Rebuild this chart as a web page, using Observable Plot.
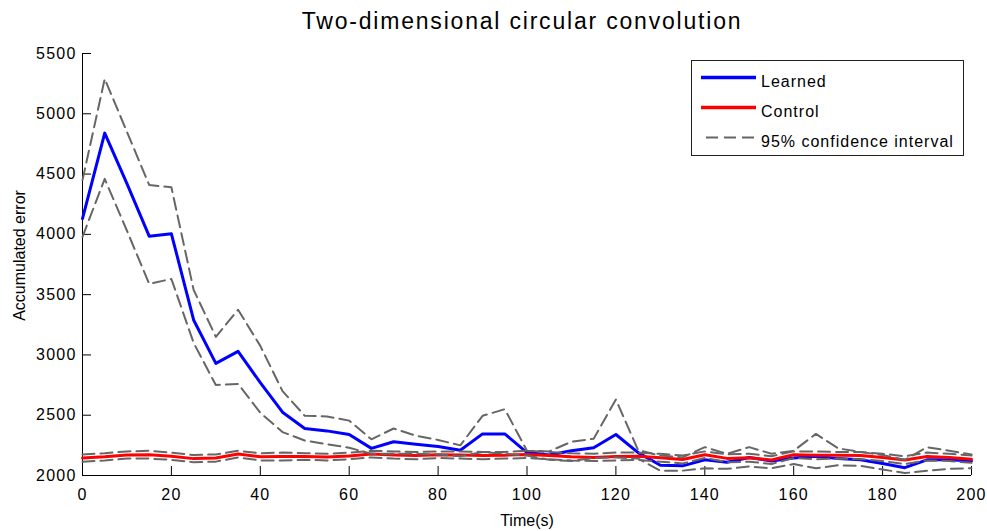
<!DOCTYPE html>
<html>
<head>
<meta charset="utf-8">
<script src="https://cdn.jsdelivr.net/npm/d3@7"></script>
<script src="https://cdn.jsdelivr.net/npm/@observablehq/plot@0.6"></script>
<style>
html, body { margin: 0; padding: 0; background: #fff; }
#wrap { position: relative; width: 987px; height: 531px; font-family: "Liberation Sans", Arial, sans-serif; }
#wrap > svg.plot { position: absolute; left: 0; top: 0; }
#title { position: absolute; top: 10px; left: 522px; transform: translateX(-50%); font-size: 23px; line-height: 23px; letter-spacing: 1.8px; white-space: nowrap; color: #000; }
</style>
</head>
<body>
<div id="wrap"><div id="title">Two-dimensional circular convolution</div></div>
<script>
// ---- data ----
const time = [0, 5, 10, 15, 20, 25, 30, 35, 40, 45, 50, 55, 60, 65, 70, 75, 80, 85, 90, 95, 100,
  105, 110, 115, 120, 125, 130, 135, 140, 145, 150, 155, 160, 165, 170, 175, 180, 185, 190, 195, 200];

const learned = [4130, 4840, 4420, 3985, 4005, 3290, 2930, 3030, 2770, 2525, 2390, 2370, 2340, 2225, 2280, 2260, 2240, 2210, 2345, 2345, 2190,
  2170, 2205, 2230, 2340, 2190, 2085, 2080, 2130, 2110, 2150, 2120, 2145, 2160, 2140, 2130, 2100, 2065, 2130, 2130, 2120];

const learnedUpper = [4450, 5290, 4850, 4410, 4390, 3540, 3150, 3375, 3075, 2700, 2495, 2490, 2455, 2300, 2390, 2330, 2295, 2250, 2495, 2550, 2205,
  2200, 2280, 2305, 2630, 2210, 2165, 2150, 2235, 2180, 2235, 2180, 2205, 2345, 2225, 2195, 2170, 2130, 2235, 2205, 2175];

const learnedLower = [3980, 4460, 4030, 3590, 3630, 3100, 2750, 2760, 2520, 2360, 2290, 2260, 2230, 2180, 2180, 2180, 2175, 2160, 2195, 2180, 2165,
  2130, 2120, 2145, 2150, 2140, 2040, 2040, 2060, 2055, 2075, 2060, 2095, 2060, 2085, 2080, 2050, 2020, 2040, 2055, 2060];

const control = [2145, 2155, 2170, 2172, 2160, 2140, 2145, 2178, 2155, 2158, 2158, 2153, 2162, 2178, 2170, 2165, 2172, 2170, 2165, 2168, 2175,
  2165, 2155, 2150, 2158, 2160, 2148, 2132, 2172, 2142, 2148, 2128, 2172, 2168, 2168, 2165, 2150, 2128, 2158, 2150, 2135];

const controlUpper = [2175, 2185, 2200, 2205, 2190, 2170, 2175, 2205, 2185, 2190, 2185, 2180, 2190, 2205, 2200, 2195, 2200, 2200, 2195, 2195, 2205,
  2195, 2185, 2180, 2190, 2190, 2180, 2165, 2200, 2175, 2180, 2160, 2200, 2200, 2195, 2195, 2180, 2160, 2190, 2180, 2165];

const controlLower = [2115, 2125, 2140, 2140, 2130, 2110, 2115, 2150, 2125, 2125, 2130, 2125, 2135, 2150, 2140, 2135, 2145, 2140, 2135, 2140, 2145,
  2135, 2125, 2120, 2125, 2130, 2115, 2100, 2145, 2110, 2115, 2095, 2145, 2135, 2140, 2135, 2120, 2095, 2125, 2120, 2105];

const xTicks = [0, 20, 40, 60, 80, 100, 120, 140, 160, 180, 200];
const yTicks = [2000, 2500, 3000, 3500, 4000, 4500, 5000, 5500];
const legendLabels = ["Learned", "Control", "95% confidence interval"];
const seriesColors = ["#0000ff", "#ff0000", "#666666"];

// ---- layout ----
const W = 987, H = 531, mL = 82, mR = 16, mT = 53, mB = 56;
const frameW = W - mL - mR, frameH = H - mT - mB;
const tickLen = 9;
const dash = "12,6";

const rows = time.map((t, i) => ({
  t, learned: learned[i], learnedUpper: learnedUpper[i], learnedLower: learnedLower[i],
  control: control[i], controlUpper: controlUpper[i], controlLower: controlLower[i]
}));

const chart = Plot.plot({
  width: W, height: H,
  marginLeft: mL, marginRight: mR, marginTop: mT, marginBottom: mB,
  style: { fontFamily: "'Liberation Sans', Arial, sans-serif", fontSize: "16px", color: "#000", background: "#fff" },
  x: { domain: [0, 200] },
  y: { domain: [2000, 5500] },
  marks: [
    Plot.axisX({ ticks: xTicks, tickSize: 0, tickPadding: 13, label: null, fontSize: 16, tickFormat: "d" }),
    Plot.axisY({ ticks: yTicks, tickSize: 0, tickPadding: 6, label: null, fontSize: 16, tickFormat: "d" }),
    Plot.tickX(xTicks, { x: d => d, insetTop: frameH - tickLen, stroke: "#000" }),
    Plot.tickY(yTicks, { y: d => d, insetRight: frameW - tickLen, stroke: "#000" }),
    Plot.ruleX([0], { stroke: "#000" }),
    Plot.ruleY([2000], { stroke: "#000" }),
    Plot.line(rows, { x: "t", y: "learned", stroke: seriesColors[0], strokeWidth: 3 }),
    Plot.line(rows, { x: "t", y: "control", stroke: seriesColors[1], strokeWidth: 3 }),
    Plot.line(rows, { x: "t", y: "learnedUpper", stroke: seriesColors[2], strokeWidth: 2, strokeDasharray: dash }),
    Plot.line(rows, { x: "t", y: "learnedLower", stroke: seriesColors[2], strokeWidth: 2, strokeDasharray: dash }),
    Plot.line(rows, { x: "t", y: "controlUpper", stroke: seriesColors[2], strokeWidth: 2, strokeDasharray: dash }),
    Plot.line(rows, { x: "t", y: "controlLower", stroke: seriesColors[2], strokeWidth: 2, strokeDasharray: dash }),
    Plot.text(["Time(s)"], { text: d => d, frameAnchor: "bottom", dy: 45, lineAnchor: "middle", textAnchor: "middle", fontSize: 16 }),
    Plot.text(["Accumulated error"], { text: d => d, frameAnchor: "left", dx: -63, dy: -9, rotate: -90, textAnchor: "middle", lineAnchor: "middle", fontSize: 16 })
  ]
});
chart.classList.add("plot");
const wrap = document.getElementById("wrap");
wrap.insertBefore(chart, wrap.firstChild);
d3.select(chart).selectAll('g[aria-label="x-axis tick label"] text, g[aria-label="y-axis tick label"] text')
  .style("letter-spacing", "1.2px");

// ---- legend ----
const lg = d3.select(wrap).append("svg")
  .attr("width", 275).attr("height", 98)
  .style("position", "absolute").style("left", "690px").style("top", "59px")
  .style("font-family", "'Liberation Sans', Arial, sans-serif");
lg.append("rect").attr("x", 1.5).attr("y", 1.5).attr("width", 272).attr("height", 95)
  .attr("fill", "#fff").attr("stroke", "#222").attr("stroke-width", 1);
legendLabels.forEach((lab, i) => {
  const y = 18.5 + i * 30;
  const ln = lg.append("line").attr("x1", 11).attr("x2", 66).attr("y1", y).attr("y2", y)
    .attr("stroke", seriesColors[i]).attr("stroke-width", i < 2 ? 3.5 : 2);
  if (i === 2) ln.attr("stroke-dasharray", dash).attr("stroke-dashoffset", 13);
  lg.append("text").attr("x", 71).attr("y", y + 9).attr("font-size", 16)
    .style("letter-spacing", "1px").attr("fill", "#000").text(lab);
});
</script>
</body>
</html>
